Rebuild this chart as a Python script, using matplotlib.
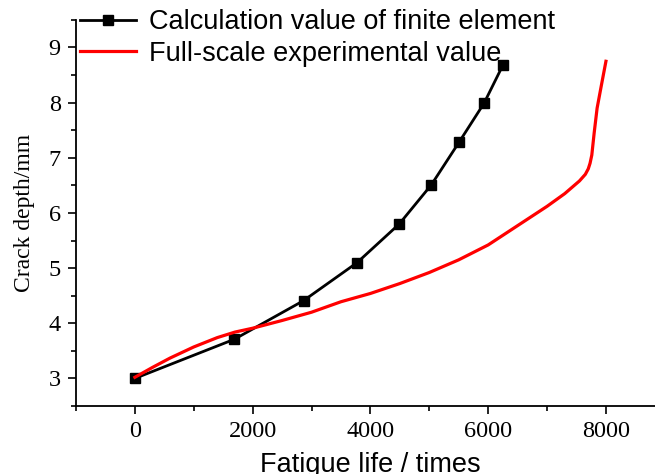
import matplotlib
matplotlib.use("Agg")
import matplotlib.pyplot as plt
from matplotlib.ticker import MultipleLocator

# finite element calculation
feLife = [0, 1690, 2865, 3775, 4490, 5035, 5510, 5930, 6255]
feDepth = [3.0, 3.71, 4.41, 5.10, 5.80, 6.51, 7.29, 7.99, 8.69]

# full-scale experiment
expLife = [0, 300, 600, 1000, 1400, 1700, 2000, 2500, 3000, 3500, 4000, 4500,
           5000, 5500, 6000, 6500, 7000, 7300, 7550, 7650, 7700, 7730, 7760,
           7800, 7850, 7920, 8000]
expDepth = [3.02, 3.20, 3.37, 3.57, 3.74, 3.84, 3.91, 4.05, 4.20, 4.39, 4.54, 4.72,
            4.92, 5.15, 5.42, 5.77, 6.12, 6.35, 6.58, 6.70, 6.80, 6.90, 7.05,
            7.45, 7.90, 8.30, 8.75]

serif = "Liberation Serif"
sans = "Liberation Sans"

fig = plt.figure(figsize=(6.55, 4.74), dpi=100)
ax = fig.add_axes([0.116, 0.1435, 0.899, 0.8145])

ax.plot(feLife, feDepth, color="black", lw=2, marker="s", markersize=6.5,
        label="Calculation value of finite element")
ax.plot(expLife, expDepth, color="red", lw=2.3,
        label="Full-scale experimental value")

ax.set_xlim(-1000, 9000)
ax.set_ylim(2.5, 9.5)
ax.xaxis.set_major_locator(MultipleLocator(2000))
ax.xaxis.set_minor_locator(MultipleLocator(1000))
ax.yaxis.set_major_locator(MultipleLocator(1))
ax.yaxis.set_minor_locator(MultipleLocator(0.5))

ax.spines["top"].set_visible(False)
ax.spines["right"].set_visible(False)
ax.spines["left"].set_linewidth(1.3)
ax.spines["bottom"].set_linewidth(1.3)
ax.tick_params(which="major", direction="out", length=6, width=1.2, pad=5)
ax.tick_params(which="minor", direction="out", length=3.5, width=1.2)
for lab in ax.get_xticklabels() + ax.get_yticklabels():
    lab.set_fontfamily(serif)
    lab.set_fontsize(17.5)

ax.set_ylabel("Crack depth/mm", fontfamily=serif, fontsize=17, labelpad=10)
ax.set_xlabel("Fatigue life / times", fontfamily=sans, fontsize=19.5, labelpad=7)

fig.legend(loc="upper left", bbox_to_anchor=(0.105, 1.003), frameon=False,
           prop={"family": sans, "size": 19.5}, handlelength=2.1,
           handletextpad=0.45, labelspacing=0.2, borderaxespad=0)

fig.savefig("out.png", dpi=100)
